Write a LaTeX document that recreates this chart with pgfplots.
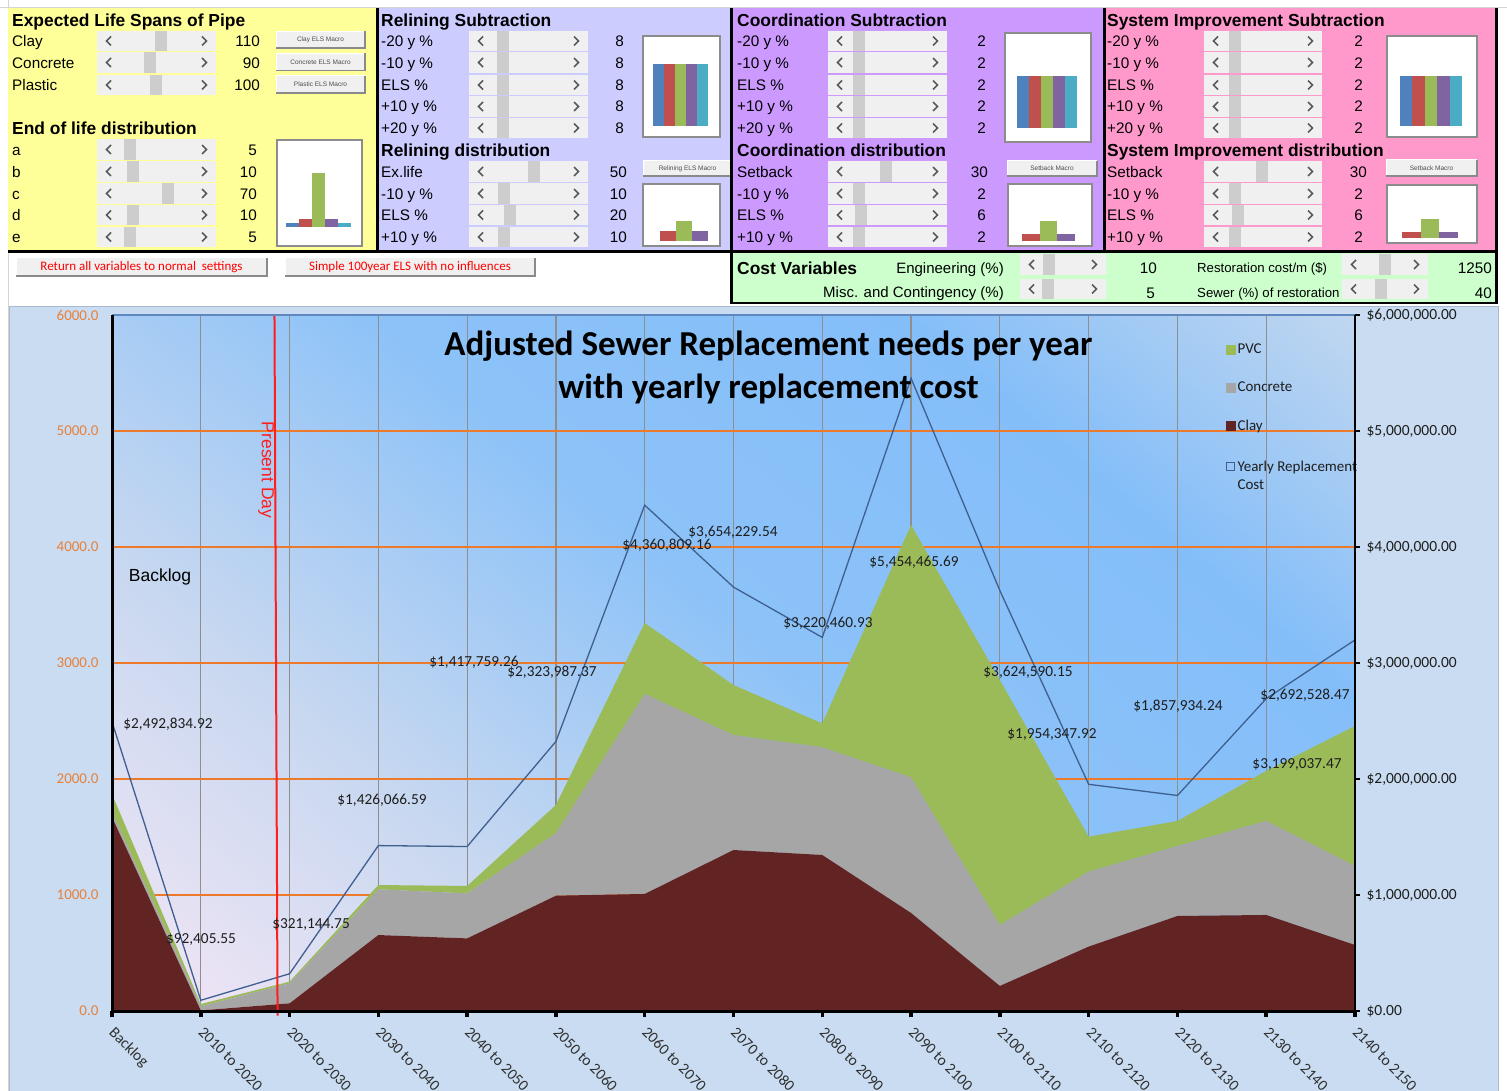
\documentclass[border=0pt]{standalone}
\usepackage{fontspec}
\setmainfont{Liberation Sans}
\newfontfamily\calibri{Carlito}
\usepackage{pgfplots}
\pgfplotsset{compat=1.18}

\definecolor{ylw}{HTML}{FFFF99}
\definecolor{lav}{HTML}{CCCCFF}
\definecolor{pur}{HTML}{CC99FF}
\definecolor{pnk}{HTML}{FF99CC}
\definecolor{grn}{HTML}{CCFFCC}
\definecolor{sbbg}{HTML}{F0F0F0}
\definecolor{thumbc}{HTML}{CDCDCD}
\definecolor{arrowc}{HTML}{5A5A5A}
\definecolor{btnedge}{HTML}{8A8A8A}
\definecolor{boxedge}{HTML}{8C8C8C}
\definecolor{sheetgrid}{HTML}{D4D4D4}
\definecolor{c1}{HTML}{4F81BD}
\definecolor{c2}{HTML}{C0504D}
\definecolor{c3}{HTML}{9BBB59}
\definecolor{c4}{HTML}{8064A2}
\definecolor{c5}{HTML}{4BACC6}
\definecolor{clay}{HTML}{622323}
\definecolor{conc}{HTML}{A6A6A6}
\definecolor{pvc}{HTML}{9BBB59}
\definecolor{costc}{HTML}{3F5F8F}
\definecolor{chartbg}{HTML}{C9DCF1}
\definecolor{chartedge}{HTML}{A9B9CF}
\definecolor{orng}{HTML}{EC7A2A}
\definecolor{orngtxt}{HTML}{E8803A}
\definecolor{vgrid}{HTML}{8E8E8E}
\definecolor{topc}{HTML}{5F87C0}
\definecolor{txtc}{HTML}{1E1E1E}
\definecolor{tickc}{HTML}{303030}
\definecolor{pdred}{HTML}{FF1E1E}
\definecolor{bg0}{HTML}{F4E6F5}
\definecolor{bg1}{HTML}{C8D8F0}
\definecolor{bg2}{HTML}{8CC2F8}
\definecolor{bg3}{HTML}{84BEF9}
\definecolor{bg4}{HTML}{C4D8EF}
\pgfdeclareverticalshading{plotbg}{100bp}{color(0bp)=(bg0); color(15bp)=(bg0); color(33bp)=(bg1); color(52bp)=(bg2); color(70bp)=(bg3); color(86bp)=(bg4); color(100bp)=(bg4)}

\newcommand\rf{\fontsize{15.3}{18}\selectfont}
\newcommand\hf{\bfseries\fontsize{17.4}{20}\selectfont}
\newcommand\lab[3]{\node[anchor=base west,inner sep=0pt,font=\rf] at (#1,#2+5.5) {#3};}
\newcommand\val[3]{\node[anchor=base east,inner sep=0pt,font=\rf] at (#1,#2+5.5) {#3};}
\newcommand\hdr[3]{\node[anchor=base west,inner sep=0pt,font=\hf] at (#1,#2+6.3) {#3};}
\newcommand\sbar[4]{%
  \fill[sbbg] (#1,#3-10.3) rectangle (#2,#3+10.3);
  \fill[thumbc] (#4,#3-10.3) rectangle (#4+12,#3+10.3);
  \draw[arrowc,line width=1.7pt] (#1+14,#3-4.5) -- (#1+9.5,#3) -- (#1+14,#3+4.5);
  \draw[arrowc,line width=1.7pt] (#2-14,#3-4.5) -- (#2-9.5,#3) -- (#2-14,#3+4.5);}
\newcommand\btn[6]{%
  \fill[sbbg] (#1,#2) rectangle (#3,#4);
  \draw[white,line width=1pt] (#1,#4) -- (#1,#2) -- (#3,#2);
  \draw[btnedge,line width=1.5pt] (#1,#4) -- (#3,#4) -- (#3,#2);
  \node[#5,inner sep=0pt] at ({(#1+#3)/2},{(#2+#4)/2}) {#6};}
\newcommand\chartbox[4]{\filldraw[fill=white,draw=boxedge,line width=1.2pt] (#1,#2) rectangle (#3,#4);}
\tikzset{smallbtn/.style={font=\fontsize{6.5}{7}\selectfont,text=black!70},
  bigbtn/.style={font=\calibri\fontsize{13}{14}\selectfont,text=red}}

\pgfplotsset{mini/.style={hide axis, scale only axis, anchor=south west, xmin=0.5, ymin=0, clip=false},
  mb/.style={ybar, bar shift=0pt, draw=none, fill=#1}}

\begin{document}
\begin{tikzpicture}
\useasboundingbox (0,0) rectangle (1507pt,-1091pt);
\begin{scope}[x=1pt,y=-1pt]
\fill[white] (0,0) rectangle (1507,1091);
\draw[sheetgrid,line width=0.8pt] (8,0) -- (8,1091);
\draw[sheetgrid,line width=0.8pt] (0,7.5) -- (1507,7.5);
% panels
\fill[ylw] (8,8) rectangle (377,252);
\fill[lav] (377,8) rectangle (731,252);
\fill[pur] (731,8) rectangle (1104,252);
\fill[pnk] (1104,8) rectangle (1496,252);
\fill[grn] (731,252) rectangle (1496,303);
% ---- yellow
\hdr{12}{20}{Expected Life Spans of Pipe}
\lab{12}{41.5}{Clay}\sbar{97}{216}{41}{155}\val{260}{41.5}{110}
\btn{276}{31.5}{365}{48}{smallbtn}{Clay ELS Macro}
\lab{12}{63}{Concrete}\sbar{97}{216}{62.5}{144}\val{260}{63}{90}
\btn{276}{53.5}{365}{70.5}{smallbtn}{Concrete ELS Macro}
\lab{12}{85}{Plastic}\sbar{97}{216}{85}{150}\val{260}{85}{100}
\btn{276}{76}{365}{93}{smallbtn}{Plastic ELS Macro}
\hdr{12}{128}{End of life distribution}
\lab{12}{150.5}{a}\sbar{97}{216}{149.5}{124}\val{257}{150.5}{5}
\lab{12}{172}{b}\sbar{97}{216}{171.5}{127}\val{257}{172}{10}
\lab{12}{194}{c}\sbar{97}{216}{193.5}{162}\val{257}{194}{70}
\lab{12}{215.5}{d}\sbar{97}{216}{215}{127}\val{257}{215.5}{10}
\lab{12}{237}{e}\sbar{97}{216}{237}{124}\val{257}{237}{5}
\chartbox{277}{140}{362}{246}
% ---- lavender
\hdr{381}{20}{Relining Subtraction}
\lab{381}{41.5}{-20 y \%}\sbar{469}{588}{41}{497}\val{624}{41.5}{8}
\lab{381}{63}{-10 y \%}\sbar{469}{588}{62.5}{497}\val{624}{63}{8}
\lab{381}{85}{ELS \%}\sbar{469}{588}{85}{497}\val{624}{85}{8}
\lab{381}{106.5}{+10 y \%}\sbar{469}{588}{106.5}{497}\val{624}{106.5}{8}
\lab{381}{128}{+20 y \%}\sbar{469}{588}{128}{497}\val{624}{128}{8}
\hdr{381}{150}{Relining distribution}
\lab{381}{172}{Ex.life}\sbar{469}{588}{171.5}{528}\val{627}{172}{50}
\lab{381}{194}{-10 y \%}\sbar{469}{588}{193.5}{498}\val{627}{194}{10}
\lab{381}{215.5}{ELS \%}\sbar{469}{588}{215}{504}\val{627}{215.5}{20}
\lab{381}{237}{+10 y \%}\sbar{469}{588}{237}{498}\val{627}{237}{10}
\chartbox{643}{36}{720}{137}
\btn{643}{161}{732}{176}{smallbtn}{Relining ELS Macro}
\chartbox{643}{184}{720}{246}
% ---- purple
\hdr{737}{20}{Coordination Subtraction}
\lab{737}{41.5}{-20 y \%}\sbar{828}{947}{41}{853}\val{986}{41.5}{2}
\lab{737}{63}{-10 y \%}\sbar{828}{947}{62.5}{853}\val{986}{63}{2}
\lab{737}{85}{ELS \%}\sbar{828}{947}{85}{853}\val{986}{85}{2}
\lab{737}{106.5}{+10 y \%}\sbar{828}{947}{106.5}{853}\val{986}{106.5}{2}
\lab{737}{128}{+20 y \%}\sbar{828}{947}{128}{853}\val{986}{128}{2}
\hdr{737}{150}{Coordination distribution}
\lab{737}{172}{Setback}\sbar{828}{947}{171.5}{880}\val{988}{172}{30}
\lab{737}{194}{-10 y \%}\sbar{828}{947}{193.5}{853}\val{986}{194}{2}
\lab{737}{215.5}{ELS \%}\sbar{828}{947}{215}{855}\val{986}{215.5}{6}
\lab{737}{237}{+10 y \%}\sbar{828}{947}{237}{853}\val{986}{237}{2}
\chartbox{1005}{33}{1091}{142}
\btn{1007}{161}{1097}{176}{smallbtn}{Setback Macro}
\chartbox{1008}{184}{1092}{246}
% ---- pink
\hdr{1107}{20}{System Improvement Subtraction}
\lab{1107}{41.5}{-20 y \%}\sbar{1204}{1322}{41}{1229}\val{1363}{41.5}{2}
\lab{1107}{63}{-10 y \%}\sbar{1204}{1322}{62.5}{1229}\val{1363}{63}{2}
\lab{1107}{85}{ELS \%}\sbar{1204}{1322}{85}{1229}\val{1363}{85}{2}
\lab{1107}{106.5}{+10 y \%}\sbar{1204}{1322}{106.5}{1229}\val{1363}{106.5}{2}
\lab{1107}{128}{+20 y \%}\sbar{1204}{1322}{128}{1229}\val{1363}{128}{2}
\hdr{1107}{150}{System Improvement distribution}
\lab{1107}{172}{Setback}\sbar{1204}{1322}{171.5}{1256}\val{1367}{172}{30}
\lab{1107}{194}{-10 y \%}\sbar{1204}{1322}{193.5}{1229}\val{1363}{194}{2}
\lab{1107}{215.5}{ELS \%}\sbar{1204}{1322}{215}{1232}\val{1363}{215.5}{6}
\lab{1107}{237}{+10 y \%}\sbar{1204}{1322}{237}{1229}\val{1363}{237}{2}
\chartbox{1387}{36}{1477}{137}
\btn{1386}{160}{1477}{176}{smallbtn}{Setback Macro}
\chartbox{1387}{185}{1477}{243}
% ---- bottom strip
\btn{16}{258}{267}{276}{bigbtn}{Return all variables to normal\ \ settings}
\btn{285}{258}{535}{276}{bigbtn}{Simple 100year ELS with no influences}
\hdr{737}{268}{Cost Variables}
\node[anchor=base east,inner sep=0pt,font=\fontsize{15}{18}\selectfont] at (1004,273.5) {Engineering (\%)};
\node[anchor=base east,inner sep=0pt,font=\fontsize{15}{18}\selectfont] at (1004,298) {Misc. and Contingency (\%)};
\sbar{1020}{1106}{264.5}{1043}\sbar{1020}{1106}{289}{1042}
\val{1157}{268}{10}\val{1155}{293}{5}
\node[anchor=base west,inner sep=0pt,font=\fontsize{13.2}{16}\selectfont] at (1197,273) {Restoration cost/m (\$)};
\node[anchor=base west,inner sep=0pt,font=\fontsize{13.2}{16}\selectfont] at (1197,297.5) {Sewer (\%) of restoration};
\sbar{1342}{1428}{264.5}{1379}\sbar{1342}{1428}{289}{1375}
\val{1492}{268}{1250}\val{1492}{293}{40}
% borders
\draw[black,line width=3pt] (377,8) -- (377,252);
\draw[black,line width=3pt] (731,8) -- (731,304);
\draw[black,line width=3pt] (1104,8) -- (1104,252);
\draw[black,line width=3pt] (1496,8) -- (1496,304);
\draw[black,line width=3pt] (8,252) -- (1497.5,252);
\draw[black,line width=1.5pt] (731,303) -- (1497,303);
% chart area
\fill[chartbg] (9,306) rectangle (1498,1091);
\draw[chartedge,line width=0.8pt] (9,1091) -- (9,306) -- (1498,306) -- (1498,1091);
\end{scope}

% ---- mini charts
\begin{axis}[mini, at={(286pt,-227pt)}, width=65pt, height=54pt, xmax=5.5, ymax=70, bar width=13pt]
\addplot[mb=c1] coordinates {(1,5)};
\addplot[mb=c2] coordinates {(2,10)};
\addplot[mb=c3] coordinates {(3,70)};
\addplot[mb=c4] coordinates {(4,10)};
\addplot[mb=c5] coordinates {(5,5)};
\end{axis}
\begin{axis}[mini, at={(653pt,-126pt)}, width=55pt, height=62pt, xmax=5.5, ymax=8, bar width=11pt]
\addplot[mb=c1] coordinates {(1,8)};
\addplot[mb=c2] coordinates {(2,8)};
\addplot[mb=c3] coordinates {(3,8)};
\addplot[mb=c4] coordinates {(4,8)};
\addplot[mb=c5] coordinates {(5,8)};
\end{axis}
\begin{axis}[mini, at={(660pt,-241pt)}, width=48pt, height=20pt, xmax=3.5, ymax=20, bar width=16pt]
\addplot[mb=c2] coordinates {(1,10)};
\addplot[mb=c3] coordinates {(2,20)};
\addplot[mb=c4] coordinates {(3,10)};
\end{axis}
\begin{axis}[mini, at={(1017pt,-128pt)}, width=60pt, height=52pt, xmax=5.5, ymax=2, bar width=12pt]
\addplot[mb=c1] coordinates {(1,2)};
\addplot[mb=c2] coordinates {(2,2)};
\addplot[mb=c3] coordinates {(3,2)};
\addplot[mb=c4] coordinates {(4,2)};
\addplot[mb=c5] coordinates {(5,2)};
\end{axis}
\begin{axis}[mini, at={(1022pt,-241pt)}, width=53pt, height=20pt, xmax=3.5, ymax=6, bar width=17.7pt]
\addplot[mb=c2] coordinates {(1,2)};
\addplot[mb=c3] coordinates {(2,6)};
\addplot[mb=c4] coordinates {(3,2)};
\end{axis}
\begin{axis}[mini, at={(1400pt,-126pt)}, width=62pt, height=50pt, xmax=5.5, ymax=2, bar width=12.4pt]
\addplot[mb=c1] coordinates {(1,2)};
\addplot[mb=c2] coordinates {(2,2)};
\addplot[mb=c3] coordinates {(3,2)};
\addplot[mb=c4] coordinates {(4,2)};
\addplot[mb=c5] coordinates {(5,2)};
\end{axis}
\begin{axis}[mini, at={(1402pt,-238pt)}, width=56pt, height=19pt, xmax=3.5, ymax=6, bar width=18.7pt]
\addplot[mb=c2] coordinates {(1,2)};
\addplot[mb=c3] coordinates {(2,6)};
\addplot[mb=c4] coordinates {(3,2)};
\end{axis}

% ---- main chart
\begin{axis}[name=main, at={(112pt,-1011pt)}, anchor=south west, scale only axis,
  width=1243pt, height=696pt, xmin=0, xmax=14, ymin=0, ymax=6000,
  stack plots=y,
  axis background/.style={shade, shading=plotbg, shading angle=-40},
  axis line style={draw=none},
  xtick={0,...,14},
  xticklabels={Backlog,2010 to 2020,2020 to 2030,2030 to 2040,2040 to 2050,2050 to 2060,2060 to 2070,2070 to 2080,2080 to 2090,2090 to 2100,2100 to 2110,2110 to 2120,2120 to 2130,2130 to 2140,2140 to 2150},
  xtick pos=left, ytick pos=left,
  xtick align=outside, ytick align=inside,
  major tick length=6pt,
  major x tick style={black, line width=3.5pt},
  major y tick style={draw=none},
  ytick={0,1000,2000,3000,4000,5000,6000},
  yticklabels={0.0,1000.0,2000.0,3000.0,4000.0,5000.0,6000.0},
  xmajorgrids, ymajorgrids,
  major x grid style={vgrid, line width=1.2pt},
  major y grid style={orng, line width=1.5pt},
  yticklabel style={font=\calibri\fontsize{15}{15}\selectfont, text=orngtxt, xshift=-10pt},
  xticklabel style={font=\calibri\fontsize{15.5}{16}\selectfont, text=tickc, anchor=north west, xshift=4pt, yshift=-4pt, rotate=-45},
]
\addplot[fill=clay, draw=none, mark=none] coordinates {(0,1672) (1,5) (2,66) (3,655) (4,626) (5,994) (6,1009) (7,1388) (8,1345) (9,845) (10,216) (11,555) (12,819) (13,828) (14,569)} \closedcycle;
\addplot[fill=conc, draw=none, mark=none] coordinates {(0,43) (1,35) (2,173) (3,394) (4,388) (5,538) (6,1724) (7,991) (8,928) (9,1169) (10,525) (11,646) (12,603) (13,810) (14,681)} \closedcycle;
\addplot[fill=pvc, draw=none, mark=none] coordinates {(0,155) (1,20) (2,14) (3,37) (4,64) (5,244) (6,612) (7,431) (8,207) (9,2176) (10,2112) (11,302) (12,216) (13,432) (14,1207)} \closedcycle;
\end{axis}

\begin{axis}[name=cost, at={(112pt,-1011pt)}, anchor=south west, scale only axis,
  width=1243pt, height=696pt, xmin=0, xmax=14, ymin=0, ymax=6000000,
  hide x axis, axis y line*=right, clip=false, scaled y ticks=false,
  y axis line style={-, black, line width=1.5pt},
  ytick={0,1000000,2000000,3000000,4000000,5000000,6000000},
  yticklabels={{\$0.00},{\$1,000,000.00},{\$2,000,000.00},{\$3,000,000.00},{\$4,000,000.00},{\$5,000,000.00},{\$6,000,000.00}},
  ytick align=outside, major tick length=5pt,
  major y tick style={black, line width=1.2pt},
  yticklabel style={font=\calibri\fontsize{15.5}{15.5}\selectfont, text=txtc, xshift=3pt},
  legend style={at={(0.8962,0.962)}, anchor=north west, draw=none, fill=none,
    font=\calibri\fontsize{15}{18}\selectfont, text=txtc, row sep=23pt, inner sep=0pt},
  legend cell align=left,
]
\addlegendimage{legend image code/.code={\fill[pvc] (0pt,-4.5pt) rectangle (9pt,4.5pt);}}
\addlegendimage{legend image code/.code={\fill[conc] (0pt,-4.5pt) rectangle (9pt,4.5pt);}}
\addlegendimage{legend image code/.code={\fill[clay] (0pt,-4.5pt) rectangle (9pt,4.5pt);}}
\addplot[costc, line width=1.3pt, mark=none,
  legend image code/.code={\draw[costc,line width=1pt,fill=none] (0.5pt,-4pt) rectangle (8.5pt,4pt);}]
  coordinates {(0,2492834.92) (1,92405.55) (2,321144.75) (3,1426066.59) (4,1417759.26) (5,2323987.37) (6,4360809.16) (7,3654229.54) (8,3220460.93) (9,5454465.69) (10,3624590.15) (11,1954347.92) (12,1857934.24) (13,2692528.47) (14,3199037.47)};
\legend{PVC,Concrete,Clay,{\begin{tabular}[t]{@{}l@{}}Yearly Replacement\\Cost\end{tabular}}}
\addplot[pdred, line width=2pt, mark=none, forget plot] coordinates {(1.83,6000000) (1.865,-40000)};
\end{axis}

% frame
\draw[topc,line width=1.2pt] (main.north west) -- (main.north east);
\draw[black,line width=1.5pt] (main.south east) -- (main.north east);
\draw[black,line width=3pt] (main.north west) -- (main.south west) -- (main.south east);

\begin{scope}[x=1pt,y=-1pt, every node/.style={font=\calibri\fontsize{15.3}{16}\selectfont, text=txtc}]
\node at (168,724) {\$2,492,834.92};
\node at (201,940) {\$92,405.55};
\node at (311,925) {\$321,144.75};
\node at (382,800) {\$1,426,066.59};
\node at (474,662) {\$1,417,759.26};
\node at (552,672) {\$2,323,987.37};
\node at (667,545) {\$4,360,809.16};
\node at (733,532) {\$3,654,229.54};
\node at (828,623) {\$3,220,460.93};
\node at (914,562) {\$5,454,465.69};
\node at (1028,672) {\$3,624,590.15};
\node at (1052,735) {\$1,954,347.92};
\node at (1178,706) {\$1,857,934.24};
\node at (1305,695) {\$2,692,528.47};
\node at (1297,765) {\$3,199,037.47};
\node[font=\calibri\bfseries\fontsize{35}{43}\selectfont, align=center, text=black] at (768.5,367) {Adjusted Sewer Replacement needs per year\\with yearly replacement cost};
\node[font=\fontsize{17.5}{20}\selectfont, text=black] at (160,577) {Backlog};
\node[font=\fontsize{17.5}{20}\selectfont, text=pdred, rotate=-90] at (266,470) {Present Day};
\end{scope}
\end{tikzpicture}
\end{document}
